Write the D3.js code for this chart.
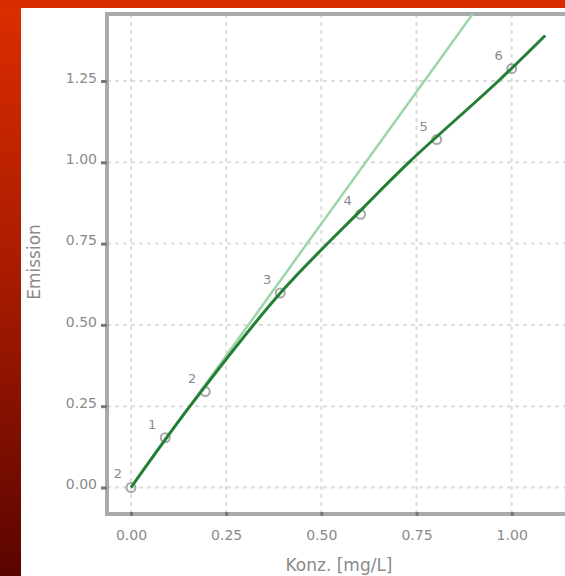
<!DOCTYPE html>
<html>
<head>
<meta charset="utf-8">
<script src="https://cdn.jsdelivr.net/npm/d3@7"></script>
<style>
  body { margin: 0; background: #ffffff; }
  text { font-family: "DejaVu Sans", sans-serif; }
</style>
</head>
<body>
<div id="chart"></div>
<script>
// calibration data
const xTicks = [0, 0.25, 0.5, 0.75, 1.0];
const yTicks = [0, 0.25, 0.5, 0.75, 1.0, 1.25];
const pointLabels = ["2", "1", "2", "3", "4", "5", "6"];
const pointX = [0, 0.09, 0.195, 0.392, 0.603, 0.803, 1.0];
const pointY = [0, 0.153, 0.295, 0.598, 0.84, 1.07, 1.288];
// dark fitted curve
const curveX = [0, 0.155, 0.39, 0.61, 0.73, 0.965, 1.088];
const curveY = [0, 0.25, 0.595, 0.86, 1.0, 1.25, 1.39];
// light straight line
const lineX = [0, 0.90];
const lineY = [0, 1.46];

function init() {
    const width = 565, height = 576;
    const left = 107, top = 14, bottom = 514;

    const svg = d3.select("#chart")
                  .append("svg")
                  .attr("width", width)
                  .attr("height", height);

    // red frame on the left and top
    const defs = svg.append("defs");
    const grad = defs.append("linearGradient")
                     .attr("id", "redside")
                     .attr("x1", 0).attr("y1", 0)
                     .attr("x2", 0).attr("y2", 1);
    grad.append("stop").attr("offset", "0%").attr("stop-color", "#dc2d00");
    grad.append("stop").attr("offset", "50%").attr("stop-color", "#a51a00");
    grad.append("stop").attr("offset", "100%").attr("stop-color", "#5a0400");

    svg.append("rect").attr("x", 0).attr("y", 0)
       .attr("width", 21).attr("height", height)
       .attr("fill", "url(#redside)");
    svg.append("rect").attr("x", 0).attr("y", 0)
       .attr("width", width).attr("height", 8)
       .attr("fill", "#da2b00");

    defs.append("clipPath").attr("id", "plotclip")
        .append("rect")
        .attr("x", left).attr("y", top)
        .attr("width", width - left).attr("height", bottom - top);

    const x = d3.scaleLinear().domain([-0.063, 1.14]).range([left, 565]);
    const y = d3.scaleLinear().domain([-0.0815, 1.456]).range([bottom, top]);

    // dotted grid
    svg.append("g").selectAll("line")
       .data(xTicks)
       .join("line")
       .attr("x1", d => x(d)).attr("x2", d => x(d))
       .attr("y1", top).attr("y2", bottom)
       .attr("stroke", "#dcdcdc")
       .attr("stroke-width", 2)
       .attr("stroke-dasharray", "4,4");
    svg.append("g").selectAll("line")
       .data(yTicks)
       .join("line")
       .attr("x1", left).attr("x2", width)
       .attr("y1", d => y(d)).attr("y2", d => y(d))
       .attr("stroke", "#dcdcdc")
       .attr("stroke-width", 2)
       .attr("stroke-dasharray", "4,4");

    // frame
    svg.append("path")
       .attr("d", `M${width + 5},${top}H${left}V${bottom}H${width + 5}`)
       .attr("fill", "none")
       .attr("stroke", "#aaaaaa")
       .attr("stroke-width", 4);

    // axes
    const yAxis = svg.append("g")
                     .attr("transform", `translate(${left},0)`)
                     .call(d3.axisLeft(y).tickValues(yTicks)
                            .tickSize(6).tickPadding(4)
                            .tickFormat(d3.format(".2f")));
    const xAxis = svg.append("g")
                     .attr("transform", `translate(0,${bottom})`)
                     .call(d3.axisBottom(x).tickValues(xTicks)
                            .tickSize(2).tickPadding(14)
                            .tickFormat(d3.format(".2f")));
    [yAxis, xAxis].forEach(a => {
        a.select(".domain").remove();
        a.selectAll(".tick line").attr("stroke", "#777").attr("stroke-width", 3);
        a.selectAll(".tick text")
         .attr("fill", "#8a8a8a")
         .style("font-size", "14px");
    });
    xAxis.selectAll(".tick line").attr("y1", -2);
    yAxis.selectAll(".tick text").attr("dy", "0.1em");

    // axis titles
    svg.append("text")
       .attr("x", 339).attr("y", 571)
       .attr("text-anchor", "middle")
       .attr("fill", "#8a8a8a")
       .style("font-size", "17px")
       .text("Konz. [mg/L]");
    svg.append("text")
       .attr("transform", "translate(40,262) rotate(-90)")
       .attr("text-anchor", "middle")
       .attr("fill", "#8a8a8a")
       .style("font-size", "17px")
       .text("Emission");

    const plot = svg.append("g").attr("clip-path", "url(#plotclip)");

    // sample markers
    const points = pointX.map((d, i) => ({x: d, y: pointY[i], label: pointLabels[i]}));
    plot.selectAll("circle")
        .data(points)
        .join("circle")
        .attr("cx", d => x(d.x))
        .attr("cy", d => y(d.y))
        .attr("r", 4.5)
        .attr("fill", "none")
        .attr("stroke", "#a8a8a8")
        .attr("stroke-width", 2);

    // light straight line
    plot.append("path")
        .datum(lineX.map((d, i) => [d, lineY[i]]))
        .attr("d", d3.line().x(d => x(d[0])).y(d => y(d[1])))
        .attr("fill", "none")
        .attr("stroke", "#9dd6a6")
        .attr("stroke-width", 2.5);

    // dark fitted curve
    plot.append("path")
        .datum(curveX.map((d, i) => [d, curveY[i]]))
        .attr("d", d3.line().curve(d3.curveCatmullRom).x(d => x(d[0])).y(d => y(d[1])))
        .attr("fill", "none")
        .attr("stroke", "#237f33")
        .attr("stroke-width", 3);

    // sample numbers
    plot.selectAll("text.lbl")
        .data(points)
        .join("text")
        .attr("class", "lbl")
        .attr("x", d => x(d.x) - 13)
        .attr("y", d => y(d.y) - 9)
        .attr("text-anchor", "middle")
        .attr("fill", "#8a8a8a")
        .style("font-size", "13px")
        .text(d => d.label);
}

window.onload = init;
</script>
</body>
</html>
